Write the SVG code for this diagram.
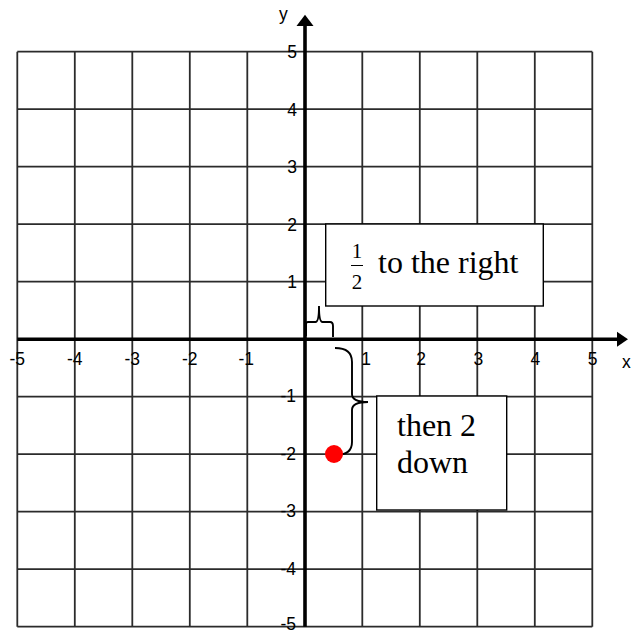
<svg xmlns="http://www.w3.org/2000/svg" width="631" height="633" viewBox="0 0 631 633">
<style>
.grid line{stroke:#2b2b2b;stroke-width:1.8}
.axis{stroke:#000;stroke-width:3.6}
.lbl{font-family:"Liberation Sans",Arial,sans-serif;font-size:17.5px;fill:#000}
.xl{text-anchor:middle}
.yl{text-anchor:end}
.box{fill:#fff;stroke:#000;stroke-width:1.4}
.tt{font-family:"Liberation Serif","Times New Roman",serif;font-size:32px;fill:#000}
.brace{fill:none;stroke:#000;stroke-width:1.9}
</style>
<rect width="631" height="633" fill="#fff"/>
<g id="grid" class="grid">
<line x1="17.3" y1="51.7" x2="17.3" y2="626.7"/>
<line x1="74.8" y1="51.7" x2="74.8" y2="626.7"/>
<line x1="132.3" y1="51.7" x2="132.3" y2="626.7"/>
<line x1="189.8" y1="51.7" x2="189.8" y2="626.7"/>
<line x1="247.3" y1="51.7" x2="247.3" y2="626.7"/>
<line x1="362.3" y1="51.7" x2="362.3" y2="626.7"/>
<line x1="419.8" y1="51.7" x2="419.8" y2="626.7"/>
<line x1="477.3" y1="51.7" x2="477.3" y2="626.7"/>
<line x1="534.8" y1="51.7" x2="534.8" y2="626.7"/>
<line x1="592.3" y1="51.7" x2="592.3" y2="626.7"/>
<line x1="17.3" y1="51.7" x2="592.3" y2="51.7"/>
<line x1="17.3" y1="109.2" x2="592.3" y2="109.2"/>
<line x1="17.3" y1="166.7" x2="592.3" y2="166.7"/>
<line x1="17.3" y1="224.2" x2="592.3" y2="224.2"/>
<line x1="17.3" y1="281.7" x2="592.3" y2="281.7"/>
<line x1="17.3" y1="396.7" x2="592.3" y2="396.7"/>
<line x1="17.3" y1="454.2" x2="592.3" y2="454.2"/>
<line x1="17.3" y1="511.7" x2="592.3" y2="511.7"/>
<line x1="17.3" y1="569.2" x2="592.3" y2="569.2"/>
<line x1="17.3" y1="626.7" x2="592.3" y2="626.7"/>
</g>
<g id="axes">
<line class="axis" x1="17.3" y1="339.2" x2="618" y2="339.2"/>
<polygon points="628,339.2 617,331.7 617,346.7" fill="#000"/>
<line class="axis" x1="305" y1="626.7" x2="305" y2="25"/>
<polygon points="305,14.7 296.5,26 313.5,26" fill="#000"/>
<text class="lbl" x="279" y="20">y</text>
<text class="lbl" x="622" y="368">x</text>
</g>
<g id="x-labels" class="lbl xl">
<text x="17.3" y="365">-5</text>
<text x="74.8" y="365">-4</text>
<text x="132.3" y="365">-3</text>
<text x="189.8" y="365">-2</text>
<text x="246.3" y="365">-1</text>
<text x="366" y="365">1</text>
<text x="421" y="365">2</text>
<text x="478.3" y="365">3</text>
<text x="535.3" y="365">4</text>
<text x="592.5" y="365">5</text>
</g>
<g id="y-labels" class="lbl yl">
<text x="297" y="58">5</text>
<text x="297" y="115.5">4</text>
<text x="297" y="173">3</text>
<text x="297" y="230.5">2</text>
<text x="297" y="288">1</text>
<text x="296" y="402.2">-1</text>
<text x="296" y="459.7">-2</text>
<text x="296" y="517.2">-3</text>
<text x="296" y="574.7">-4</text>
<text x="296" y="630">-5</text>
</g>
<g id="connectors">
<path class="brace" d="M306,336 L306,324 Q306,322 308,322 L315.5,322 Q319,322 319,306 Q319,322 322.5,322 L330,322 Q333,322 333,326 L333,337"/>
<path class="brace" d="M335,348 Q352,348 352,362 L352,394 Q352,402 368,402 Q352,402 352,410 L352,442 Q352,455 336,455"/>
</g>
<g id="box-right">
<rect class="box" x="325.7" y="224" width="217.6" height="82"/>
<text class="tt" x="357" y="257.5" style="font-size:21px;text-anchor:middle">1</text>
<line x1="351" y1="265.5" x2="363" y2="265.5" stroke="#000" stroke-width="1"/>
<text class="tt" x="357" y="289" style="font-size:21px;text-anchor:middle">2</text>
<text class="tt" x="378" y="273">to the right</text>
</g>
<g id="box-down">
<rect class="box" x="376.7" y="396" width="130" height="114"/>
<text class="tt" x="397" y="436">then 2</text>
<text class="tt" x="397" y="472.7">down</text>
</g>
<g id="point">
<circle cx="334" cy="454" r="9" fill="#f00"/>
</g>
</svg>
